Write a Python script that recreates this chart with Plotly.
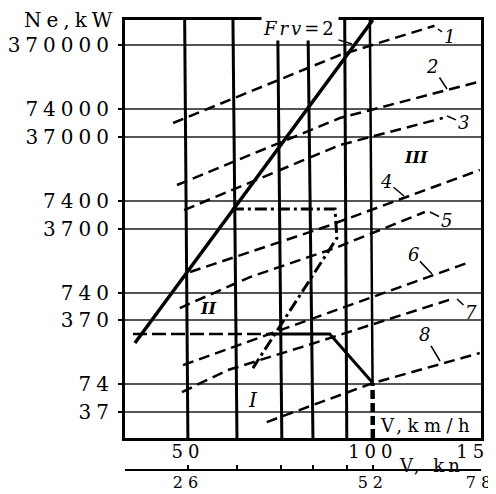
import numpy as np
import plotly.graph_objects as go

# ---------------- data ----------------
ne_ticks = [37, 74, 370, 740, 3700, 7400, 37000, 74000, 370000]
ne_tick_labels = ["37", "74", "370", "740", "3700", "7400", "37000", "74000", "370000"]
v_ticks = [50, 100, 150]
v_tick_labels = ["50", "100", "150"]
kn_tick_pos = [50, 60, 71, 80, 90.7, 100, 150]
kn_tick_labels = ["26", "", "", "", "", "52", "78"]

ne_min, ne_max = 19.3, 693000          # axis range, kW
v_min, v_max = 39.5, 150               # axis range, km/h

# near-vertical solid lines: speed at the bottom / at the top of the grid
vert_v_bottom = [50, 60.1, 71.1, 79.9, 90.7]
vert_v_top = [49.4, 59.2, 70.0, 78.4, 90.0]
# the 100 km/h line (solid above 74 kW, heavy dashed below)
v100_v = [100, 99.9, 98.9]
v100_ne = [ne_min, 76.6, ne_max]

# Frv = 2 line
frv_v = [41, 60, 80, 100]
frv_ne = [209, 6740, 89600, 693000]

# dashed curves 1..8
curves = {
    "1": ([47.3, 88.4, 126.0], [52260, 288000, 600000]),
    "2": ([48.0, 88.4, 148.2], [11030, 59240, 146200]),
    "3": ([49.3, 88.4, 130.0], [5886, 30090, 59240]),
    "4": ([50.4, 83.5, 149.3], [1242, 3842, 16060]),
    "5": ([48.5, 63.1, 86.8, 121.5], [503, 1095, 2268, 5598]),
    "6": ([49.1, 76.1, 143.8], [120.3, 345, 1596]),
    "7": ([48.9, 58.1, 76.6, 135.9], [61.1, 106.2, 189, 646.7]),
    "8": ([67.2, 76.1, 100, 149.3], [28.8, 38.9, 76.6, 162.6]),
}

# horizontal dashed limit and solid broken line
hdash_v = [40.7, 67.5]
hdash_ne = [262, 262]
solid_v = [67.5, 85.1, 100]
solid_ne = [262, 262, 76.6]

# dash-dot boundary
dd_v = [58.96, 86.8, 87.4, 63.8]
dd_ne = [6035, 6035, 2915, 111.6]

# ---------------- figure ----------------
SERIF = "DejaVu Serif"
OFF = 8   # the page body has an 8 px default margin


def sp(t, s):
    return "<span style='letter-spacing:%spx'>%s</span>" % (s, t)


fig = go.Figure()

for vb, vt in zip(vert_v_bottom, vert_v_top):
    fig.add_trace(go.Scatter(x=[vb, vt], y=[ne_min, ne_max], mode="lines",
                             line=dict(color="black", width=3), hoverinfo="skip"))

fig.add_trace(go.Scatter(x=v100_v[1:], y=v100_ne[1:], mode="lines",
                         line=dict(color="black", width=2.5), hoverinfo="skip"))
fig.add_trace(go.Scatter(x=v100_v[:2], y=v100_ne[:2], mode="lines",
                         line=dict(color="black", width=4.5, dash="9px,4px"), hoverinfo="skip"))

for name, (vv, nn) in curves.items():
    fig.add_trace(go.Scatter(x=vv, y=nn, mode="lines",
                             line=dict(color="black", width=2.5, dash="11px,6px"),
                             hoverinfo="skip"))

fig.add_trace(go.Scatter(x=frv_v, y=frv_ne, mode="lines",
                         line=dict(color="black", width=3.5), hoverinfo="skip"))

fig.add_trace(go.Scatter(x=hdash_v, y=hdash_ne, mode="lines",
                         line=dict(color="black", width=2.5, dash="14px,5px"), hoverinfo="skip"))
fig.add_trace(go.Scatter(x=solid_v, y=solid_ne, mode="lines",
                         line=dict(color="black", width=3), hoverinfo="skip"))
fig.add_trace(go.Scatter(x=dd_v, y=dd_ne, mode="lines",
                         line=dict(color="black", width=3, dash="12px,4px,3px,4px"),
                         hoverinfo="skip"))

# invisible trace so that the knots axis is drawn
fig.add_trace(go.Scatter(x=kn_tick_pos, y=[ne_ticks[0]] * len(kn_tick_pos), xaxis="x2",
                         mode="lines", line=dict(width=0, color="rgba(0,0,0,0)"),
                         hoverinfo="skip"))

xr = [np.log10(v_min), np.log10(v_max)]
yr = [np.log10(ne_min), np.log10(ne_max)]

fig.update_layout(
    width=496 - OFF, height=494 - OFF,
    margin=dict(l=125 - OFF, r=15, t=20 - OFF, b=21, autoexpand=False),
    paper_bgcolor="white", plot_bgcolor="white",
    showlegend=False,
    font=dict(family=SERIF, color="black"),
    xaxis=dict(type="log", range=xr, tickvals=v_ticks, automargin=False,
               ticktext=[sp(t, 5) for t in v_tick_labels],
               showgrid=False, ticks="", showline=True, mirror=True,
               linecolor="black", linewidth=3, zeroline=False,
               ticklabelstandoff=-5,
               tickfont=dict(family=SERIF, size=18, color="black"),
               ticklabeloverflow="allow"),
    xaxis2=dict(type="log", range=xr, overlaying="x", anchor="free", position=3 / 453,
                side="bottom", tickvals=kn_tick_pos, automargin=False,
                ticktext=[sp(t, 5) for t in kn_tick_labels],
                ticks="inside", ticklen=4, tickwidth=2, tickcolor="black",
                showline=True, linewidth=2, linecolor="black", showgrid=False,
                zeroline=False, ticklabelstandoff=-2,
                tickfont=dict(family=SERIF, size=16, color="black"),
                ticklabeloverflow="allow"),
    yaxis=dict(type="log", domain=[35 / 453, 1], range=yr, tickvals=ne_ticks,
               automargin=False,
               ticktext=[sp(t, 5) for t in ne_tick_labels],
               showgrid=True, gridcolor="#555", gridwidth=2,
               ticks="outside", ticklen=4, tickwidth=2, tickcolor="black",
               showline=True, mirror=True, linecolor="black", linewidth=3,
               zeroline=False,
               tickfont=dict(family=SERIF, size=20, color="black")),
)


def px(X):
    return (X - 125) / 356


def py(Y):
    return (473 - Y) / 453


ann = []
# axis titles
ann.append(dict(text=sp("Ne,kW", 5), x=px(119), y=py(20), xanchor="right", yanchor="middle",
                font=dict(size=20)))
ann.append(dict(text=sp("V,km/h", 5.5), x=px(427), y=py(425), xanchor="center", yanchor="middle",
                font=dict(size=18), bgcolor="white"))
ann.append(dict(text=sp("V, kn", 4), x=px(431), y=py(465), xanchor="center", yanchor="middle",
                font=dict(size=18)))
# region labels
ann.append(dict(text="<b><i>III</i></b>", x=px(416), y=py(157), font=dict(size=16),
                xanchor="center", yanchor="middle"))
ann.append(dict(text="<b><i>II</i></b>", x=px(208), y=py(308), font=dict(size=16),
                xanchor="center", yanchor="middle"))
ann.append(dict(text="<i>I</i>", x=px(253), y=py(400), font=dict(size=20),
                xanchor="center", yanchor="middle"))

# curve numbers with leaders: (label, text X, text Y, tip X, tip Y)
labels = [
    ("1", 449, 37, 438, 29),
    ("2", 432, 66, 447, 89),
    ("3", 463, 123, 447, 116),
    ("4", 386, 181, 404, 196),
    ("5", 446, 220, 430, 212),
    ("6", 413, 254, 432, 274),
    ("7", 471, 312, 457, 299),
    ("8", 424, 334, 440, 361),
]
for t, tx, ty, ax_, ay_ in labels:
    ann.append(dict(text="<i>%s</i>" % t, x=px(ax_), y=py(ay_), ax=tx - ax_, ay=ty - ay_,
                    showarrow=True, arrowhead=0, arrowwidth=1.5, arrowcolor="black",
                    standoff=0, font=dict(size=18)))

ann.append(dict(text=sp("<i>Frv</i>=2", 3), x=px(352), y=py(44), ax=300 - 352, ay=28 - 44,
                showarrow=True, arrowhead=0, arrowwidth=1.5, arrowcolor="black",
                standoff=0, font=dict(size=18), bgcolor="white"))

for a in ann:
    a.setdefault("xref", "paper")
    a.setdefault("yref", "paper")
    a.setdefault("showarrow", False)
    fnt = a.get("font", {})
    fnt.setdefault("family", SERIF)
    fnt.setdefault("color", "black")
    a["font"] = fnt

fig.update_layout(annotations=ann)
fig.write_html("out.html")
